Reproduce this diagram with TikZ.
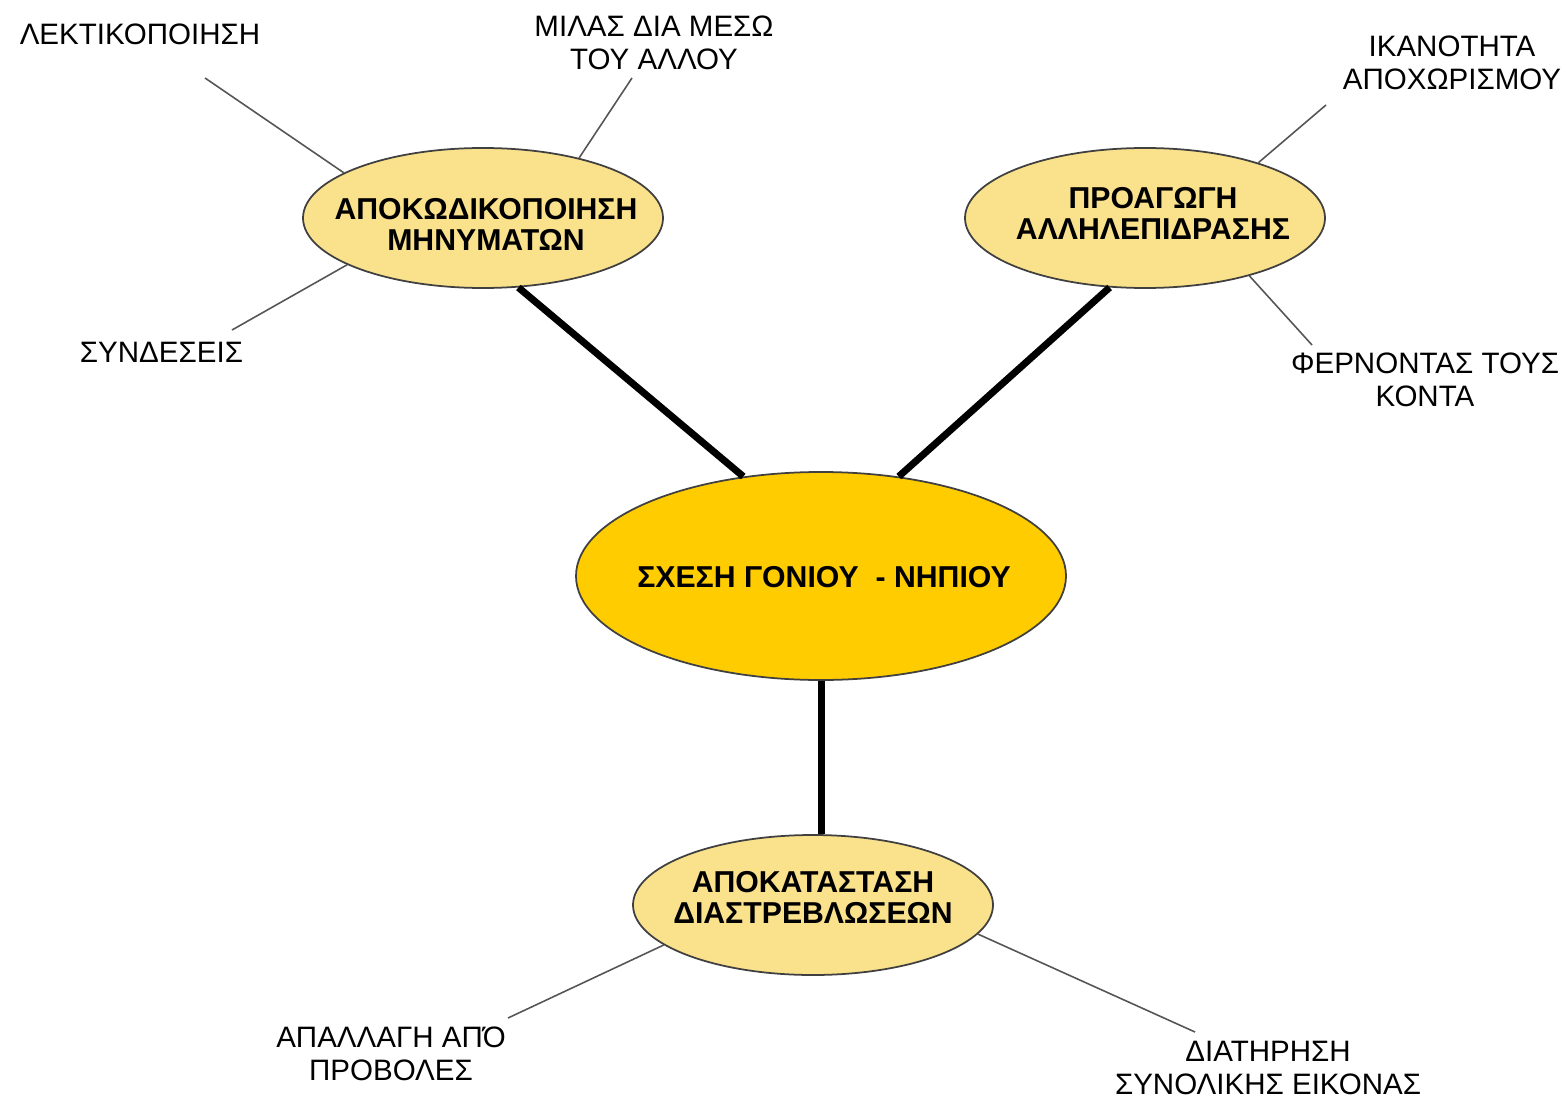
\documentclass[tikz,border=0pt]{standalone}
\usepackage{fontspec}
\setmainfont{Liberation Sans}
\usetikzlibrary{shapes.geometric}

\definecolor{hubgold}{HTML}{FFCC00}
\definecolor{leafyellow}{HTML}{FAE18C}
\definecolor{twiggray}{HTML}{555555}

\tikzset{
	oval/.style={ellipse, draw=black!75, line width=0.5pt, inner sep=0pt},
	hub/.style={oval, fill=hubgold, minimum width=4.9cm, minimum height=2.08cm},
	leaf/.style={oval, fill=leafyellow, minimum width=3.6cm, minimum height=1.4cm},
	ovaltext/.style={align=center, inner sep=0pt, font={\fontsize{8.6}{8.8}\selectfont\bfseries}},
	twigtext/.style={align=center, inner sep=0pt, font={\fontsize{8.4}{9.4}\selectfont}},
	branch/.style={line width=2pt, black},
	twig/.style={line width=0.45pt, twiggray}
}

\begin{document}
\begin{tikzpicture}
	\useasboundingbox (0,0) rectangle (15.68,10.99);

	\node[hub] (ctr) at (8.21,5.23) {};
	\node[leaf] (dec) at (4.83,8.81) {};
	\node[leaf] (int) at (11.45,8.81) {};
	\node[leaf] (rest) at (8.13,1.94) {};

	\node[ovaltext] (ctrtext) at (8.24,5.22) {ΣΧΕΣΗ ΓΟΝΙΟΥ~ - ΝΗΠΙΟΥ};
	\node[ovaltext] (dectext) at (4.86,8.75) {ΑΠΟΚΩΔΙΚΟΠΟΙΗΣΗ\\ΜΗΝΥΜΑΤΩΝ};
	\node[ovaltext] (inttext) at (11.53,8.86) {ΠΡΟΑΓΩΓΗ\\ΑΛΛΗΛΕΠΙΔΡΑΣΗΣ};
	\node[ovaltext] (resttext) at (8.13,2.02) {ΑΠΟΚΑΤΑΣΤΑΣΗ\\ΔΙΑΣΤΡΕΒΛΩΣΕΩΝ};

	\draw[branch] (dec.-63) -- (ctr.128);
	\draw[branch] (int.-117) -- (ctr.52);
	\draw[branch] (ctr.south) -- (ctr.south |- rest.north);

	\node[twigtext] (lek) at (1.40,10.65) {ΛΕΚΤΙΚΟΠΟΙΗΣΗ};
	\node[twigtext] (milas) at (6.54,10.565) {ΜΙΛΑΣ ΔΙΑ ΜΕΣΩ\\ΤΟΥ ΑΛΛΟΥ};
	\node[twigtext] (synd) at (1.615,7.47) {ΣΥΝΔΕΣΕΙΣ};
	\node[twigtext] (ikan) at (14.52,10.36) {ΙΚΑΝΟΤΗΤΑ\\ΑΠΟΧΩΡΙΣΜΟΥ};
	\node[twigtext] (fern) at (14.25,7.19) {ΦΕΡΝΟΝΤΑΣ ΤΟΥΣ\\ΚΟΝΤΑ};
	\node[twigtext] (apal) at (3.91,0.45) {ΑΠΑΛΛΑΓΗ ΑΠΌ\\ΠΡΟΒΟΛΕΣ};
	\node[twigtext] (diat) at (12.68,0.315) {ΔΙΑΤΗΡΗΣΗ\\ΣΥΝΟΛΙΚΗΣ ΕΙΚΟΝΑΣ};

	\coordinate (lekend) at (2.05,10.21);
	\coordinate (milasend) at (6.32,10.21);
	\coordinate (syndend) at (2.32,7.69);
	\coordinate (ikanend) at (13.26,9.94);
	\coordinate (fernend) at (13.12,7.54);
	\coordinate (apalend) at (5.08,0.81);
	\coordinate (diatend) at (11.95,0.67);

	\draw[twig] (dec.162) -- (lekend);
	\draw[twig] (dec.32) -- (milasend);
	\draw[twig] (dec.199) -- (syndend);
	\draw[twig] (int.26) -- (ikanend);
	\draw[twig] (int.-29) -- (fernend);
	\draw[twig] (rest.195) -- (apalend);
	\draw[twig] (rest.-10) -- (diatend);
\end{tikzpicture}
\end{document}
